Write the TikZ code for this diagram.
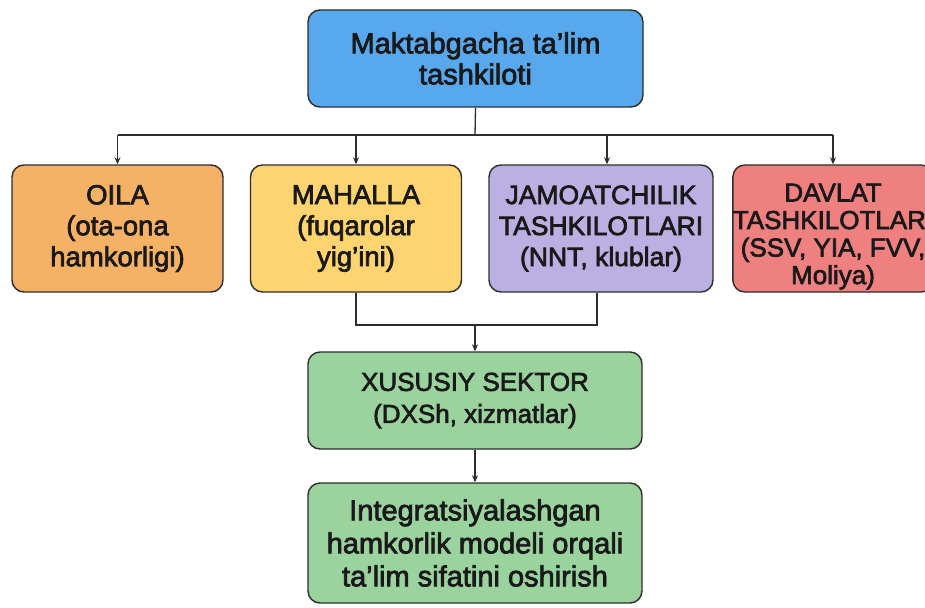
\documentclass[tikz,border=0pt]{standalone}
\usepackage{fontspec}
\setmainfont{Liberation Sans}[BoldFont={Liberation Sans},BoldFeatures={FakeBold=2.5}]
\usetikzlibrary{arrows.meta,calc}
\definecolor{cblue}{HTML}{58A8EE}
\definecolor{corange}{HTML}{F5B266}
\definecolor{cyellow}{HTML}{FDD46F}
\definecolor{cpurple}{HTML}{BCB0E2}
\definecolor{cred}{HTML}{EF8080}
\definecolor{cgreen}{HTML}{9AD39E}
\definecolor{cline}{HTML}{2D2D2D}
\tikzset{
  box/.style={draw=cline, line width=1.4pt, rounded corners=12pt, align=center,
    inner sep=0pt, text=black!90, font=\fontsize{26.5}{31}\selectfont\bfseries},
  conn/.style={draw=cline, line width=1.3pt},
  arr/.style={conn, -{Stealth[length=7pt,width=6pt]}}
}
\begin{document}
\begin{tikzpicture}[x=1pt,y=-1pt]
\useasboundingbox[fill=white] (0,0) rectangle (925,607);
\node[box, fill=cblue, minimum width=335pt, minimum height=97pt, font=\fontsize{29}{31}\selectfont\bfseries] (top) at (475.5,58.5) {Maktabgacha ta’lim\\tashkiloti};
\node[box, fill=corange, minimum width=211pt, minimum height=127pt, font=\fontsize{27.5}{31}\selectfont\bfseries] (oila) at (117.5,228.5) {OILA\\(ota-ona\\hamkorligi)};
\node[box, fill=cyellow, minimum width=211pt, minimum height=127pt, font=\fontsize{27.5}{31}\selectfont\bfseries] (mah) at (356,228.5) {MAHALLA\\(fuqarolar\\yig’ini)};
\node[box, fill=cpurple, minimum width=224pt, minimum height=127pt] (jam) at (601,228.5) {JAMOATCHILIK\\TASHKILOTLARI\\(NNT, klublar)};
\node[box, fill=cred, minimum width=194pt, minimum height=127pt, font=\fontsize{26}{27.5}\selectfont\bfseries] (dav) at (833,228.5) {\rule{0pt}{34pt}DAVLAT\\TASHKILOTLARI\\(SSV, YIA, FVV,\\Moliya)};
\node[box, fill=cgreen, minimum width=334pt, minimum height=97pt, font=\fontsize{26}{32}\selectfont\bfseries] (xus) at (475,400.5) {XUSUSIY SEKTOR\\(DXSh, xizmatlar)};
\node[box, fill=cgreen, minimum width=334pt, minimum height=120pt, font=\fontsize{29}{33}\selectfont\bfseries] (int) at (475,543) {Integratsiyalashgan\\hamkorlik modeli orqali\\ta’lim sifatini oshirish};
\coordinate (bus) at (475,135);
\coordinate (merge) at (475,325);
\draw[conn] (top.south) -- (bus);
\draw[conn] (oila.north |- bus) -- (dav.north |- bus);
\draw[arr] (oila.north |- bus) -- (oila.north);
\draw[arr] (mah.north |- bus) -- (mah.north);
\draw[arr] ([xshift=6pt]jam.north |- bus) -- ([xshift=6pt]jam.north);
\draw[arr] (dav.north |- bus) -- (dav.north);
\draw[conn] (mah.south) -- (mah.south |- merge) -- ([xshift=-4pt]jam.south |- merge) -- ([xshift=-4pt]jam.south);
\draw[arr] (merge) -- (xus.north);
\draw[arr] (xus.south) -- (int.north);
\end{tikzpicture}
\end{document}
